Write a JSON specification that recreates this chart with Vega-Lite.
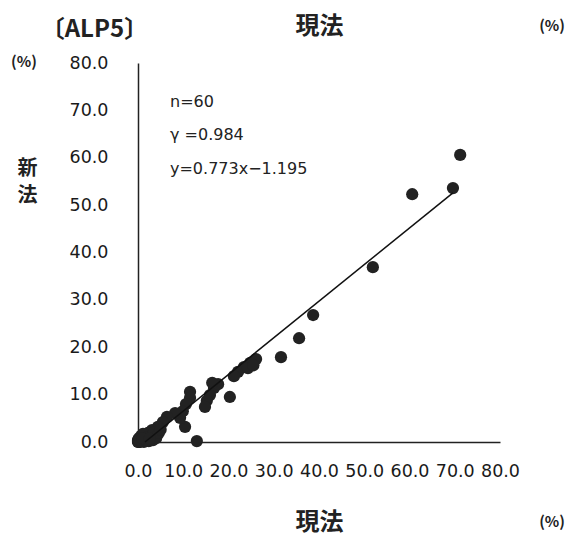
{
  "$schema": "https://vega.github.io/schema/vega-lite/v6.json",
  "width": 362,
  "height": 379,
  "autosize": "none",
  "padding": {"left": 138, "top": 63, "right": 74, "bottom": 95},
  "background": "white",
  "config": {"view": {"stroke": null}, "axis": {"grid": false, "ticks": false, "tickSize": 0}},
  "datasets": {
    "pts": [
      {"x": 71.2, "y": 60.6}, {"x": 69.6, "y": 53.6}, {"x": 60.6, "y": 52.3}, {"x": 51.9, "y": 36.9}, {"x": 38.7, "y": 26.8}, {"x": 35.6, "y": 21.9}, {"x": 31.6, "y": 17.9},
      {"x": 26.1, "y": 17.5}, {"x": 24.8, "y": 16.7}, {"x": 23.4, "y": 15.8}, {"x": 22.1, "y": 14.8}, {"x": 21.2, "y": 13.9}, {"x": 24.3, "y": 15.6}, {"x": 25.5, "y": 16.2},
      {"x": 20.3, "y": 9.5}, {"x": 16.8, "y": 11.4}, {"x": 17.7, "y": 12.2}, {"x": 16.4, "y": 12.5}, {"x": 15.9, "y": 9.9}, {"x": 15.2, "y": 8.7}, {"x": 14.8, "y": 7.4},
      {"x": 11.5, "y": 10.6}, {"x": 11.5, "y": 9.3}, {"x": 10.6, "y": 8.0}, {"x": 9.9, "y": 6.5}, {"x": 10.4, "y": 3.2}, {"x": 9.3, "y": 5.1}, {"x": 8.2, "y": 6.1}, {"x": 6.4, "y": 5.3}, {"x": 5.5, "y": 4.2}, {"x": 4.4, "y": 3.2}, {"x": 3.1, "y": 2.5}, {"x": 2.2, "y": 1.9}, {"x": 1.5, "y": 1.3}, {"x": 13.0, "y": 0.2},
      {"x": 0, "y": 0}, {"x": 0, "y": 0.2}, {"x": 0.4, "y": 0}, {"x": 0.9, "y": 0.4}, {"x": 1.3, "y": 0}, {"x": 1.8, "y": 0.6}, {"x": 2.4, "y": 0.2}, {"x": 2.9, "y": 1.1}, {"x": 3.3, "y": 0.4}, {"x": 3.8, "y": 1.5}, {"x": 4.0, "y": 0.8}, {"x": 0, "y": 0.4}, {"x": 0.2, "y": 0.8}, {"x": 0.7, "y": 1.3}, {"x": 1.1, "y": 1.7}, {"x": 2.0, "y": 1.0}, {"x": 0.5, "y": 0.1}, {"x": 1.5, "y": 0.3}, {"x": 0.1, "y": 0.0}, {"x": 3.5, "y": 2.0}, {"x": 4.6, "y": 1.9}, {"x": 0.3, "y": 0.5}, {"x": 1.0, "y": 0.8}, {"x": 2.6, "y": 0.7}, {"x": 5.0, "y": 2.6}
    ],
    "fit": [{"x": 1.55, "y": 0}, {"x": 69.6, "y": 52.6}]
  },
  "layer": [
    {
      "data": {"name": "pts"},
      "mark": {"type": "circle", "size": 150, "color": "#222222", "opacity": 1},
      "encoding": {
        "x": {"field": "x", "type": "quantitative", "scale": {"domain": [0, 80], "nice": false},
          "axis": {"orient": "bottom", "values": [0, 10, 20, 30, 40, 50, 60, 70, 80], "format": ".1f", "labelFont": "DejaVu Sans", "labelFontSize": 17.5, "labelColor": "#1a1a1a", "labelPadding": 20, "labelOverlap": false, "labelFlush": false, "domainColor": "#222222", "domainWidth": 1.5,
            "title": "現法", "titleFont": "Noto Sans CJK JP", "titleFontSize": 24, "titleFontWeight": "bold", "titleColor": "#222222", "titleY": 80, "titleBaseline": "middle"}},
        "y": {"field": "y", "type": "quantitative", "scale": {"domain": [0, 80], "nice": false},
          "axis": {"values": [0, 10, 20, 30, 40, 50, 60, 70, 80], "format": ".1f", "labelFont": "DejaVu Sans", "labelFontSize": 17.5, "labelColor": "#1a1a1a", "labelPadding": 30, "labelOverlap": false, "labelFlush": false, "domainColor": "#222222", "domainWidth": 1.5,
            "title": ["新", "法"], "titleAngle": 0, "titleX": -111, "titleY": 95, "titleAlign": "center", "titleBaseline": "top", "titleFont": "Noto Sans CJK JP", "titleFontSize": 20, "titleFontWeight": "bold", "titleColor": "#222222", "titleLineHeight": 27}}
      }
    },
    {
      "data": {"name": "fit"},
      "mark": {"type": "line", "color": "#111111", "strokeWidth": 1.5},
      "encoding": {
        "x": {"field": "x", "type": "quantitative", "scale": {"domain": [0, 80], "nice": false},
          "axis": {"orient": "top", "labels": false, "domain": false, "ticks": false, "title": "現法", "titleFont": "Noto Sans CJK JP", "titleFontSize": 24, "titleFontWeight": "bold", "titleColor": "#222222", "titleY": -37, "titleBaseline": "middle"}},
        "y": {"field": "y", "type": "quantitative", "scale": {"domain": [0, 80], "nice": false}, "axis": null}
      }
    },
    {
      "data": {"values": [{"t": "〔ALP5〕"}]},
      "mark": {"type": "text", "align": "left", "baseline": "middle", "font": "Noto Sans CJK JP", "fontSize": 24, "fontWeight": "bold", "color": "#222222"},
      "encoding": {
        "x": {"datum": -21.5, "type": "quantitative", "scale": {"domain": [0, 80], "nice": false}, "axis": null},
        "y": {"datum": 87.0, "type": "quantitative", "scale": {"domain": [0, 80], "nice": false}, "axis": null},
        "text": {"field": "t"}
      }
    },
    {
      "data": {"values": [{"t": "(%)"}]},
      "mark": {"type": "text", "align": "center", "baseline": "middle", "font": "Noto Sans CJK JP", "fontSize": 15, "fontWeight": "bold", "color": "#222222"},
      "encoding": {
        "x": {"datum": 91.5, "type": "quantitative", "scale": {"domain": [0, 80], "nice": false}, "axis": null},
        "y": {"datum": 87.8, "type": "quantitative", "scale": {"domain": [0, 80], "nice": false}, "axis": null},
        "text": {"field": "t"}
      }
    },
    {
      "data": {"values": [{"t": "(%)"}]},
      "mark": {"type": "text", "align": "center", "baseline": "middle", "font": "Noto Sans CJK JP", "fontSize": 15, "fontWeight": "bold", "color": "#222222"},
      "encoding": {
        "x": {"datum": 91.5, "type": "quantitative", "scale": {"domain": [0, 80], "nice": false}, "axis": null},
        "y": {"datum": -16.9, "type": "quantitative", "scale": {"domain": [0, 80], "nice": false}, "axis": null},
        "text": {"field": "t"}
      }
    },
    {
      "data": {"values": [{"t": "(%)"}]},
      "mark": {"type": "text", "align": "center", "baseline": "middle", "font": "Noto Sans CJK JP", "fontSize": 15, "fontWeight": "bold", "color": "#222222"},
      "encoding": {
        "x": {"datum": -25.2, "type": "quantitative", "scale": {"domain": [0, 80], "nice": false}, "axis": null},
        "y": {"datum": 80.2, "type": "quantitative", "scale": {"domain": [0, 80], "nice": false}, "axis": null},
        "text": {"field": "t"}
      }
    },
    {
      "data": {"values": [{"t": ["n=60", " γ =0.984", "y=0.773x−1.195"]}]},
      "mark": {"type": "text", "align": "left", "baseline": "middle", "font": "DejaVu Sans", "fontSize": 16, "lineHeight": 33.5, "color": "#222222"},
      "encoding": {
        "x": {"datum": 7.07, "type": "quantitative", "scale": {"domain": [0, 80], "nice": false}, "axis": null},
        "y": {"datum": 71.8, "type": "quantitative", "scale": {"domain": [0, 80], "nice": false}, "axis": null},
        "text": {"field": "t"}
      }
    }
  ],
  "resolve": {"axis": {"x": "independent", "y": "independent"}}
}
